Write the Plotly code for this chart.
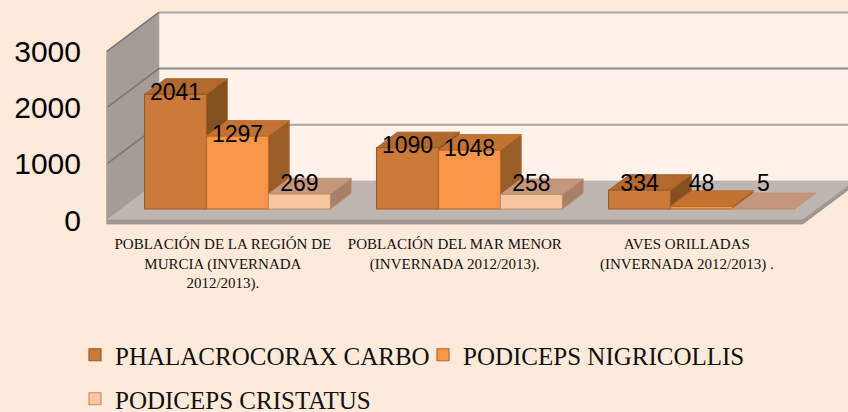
import plotly.graph_objects as go

# ---------------- data ----------------
categories = [
    "POBLACIÓN DE LA REGIÓN DE<br>MURCIA (INVERNADA<br>2012/2013).",
    "POBLACIÓN DEL MAR MENOR<br>(INVERNADA 2012/2013).",
    "AVES ORILLADAS<br>(INVERNADA 2012/2013) .",
]
series_names = ["PHALACROCORAX CARBO", "PODICEPS NIGRICOLLIS", "PODICEPS CRISTATUS"]
phalacrocorax = [2041, 1090, 334]
nigricollis = [1297, 1048, 48]
cristatus = [269, 258, 5]
y_ticks = [0, 1000, 2000, 3000]

series_values = [phalacrocorax, nigricollis, cristatus]

# ---------------- style ----------------
front_cols = ["#CB7A3A", "#F79646", "#FAC6A2"]
top_cols = ["#B2692D", "#C3732F", "#C4967C"]
side_cols = ["#85501F", "#9A5C27", "#A8806A"]
edge_cols = ["#9C5A25", "#B86A2C", "#C0906E"]

BG = "#FDEADA"
W = 0.267            # bar width (category units)
K = 0.0562           # px per value unit (vertical)
XS = 232.0           # px per category unit
DEPTH = (52.0, 39.0)  # full floor depth in px (right, up)
T0 = 0.282           # depth position of bar front plane
TB = 0.4             # bar depth fraction

ML, MT, MB = 82, 0, 182
X0PX = 237.5 - ML    # px of x=0 inside plot area
YZ = 209.0           # px of value 0 (bar plane)
PW, PH = 848 - ML, 412 - MT - MB
x_range = [(-X0PX) / XS, (PW - X0PX) / XS]
y_range = [(YZ - PH) / K, YZ / K]


def proj(x, v, t):
    return x + (t - T0) * DEPTH[0] / XS, v + (t - T0) * DEPTH[1] / K


def poly(pts, fill, line=None, lw=0.8):
    path = "M " + " L ".join(f"{a},{b}" for a, b in pts) + " Z"
    return dict(type="path", path=path, xref="x", yref="y", fillcolor=fill,
                line=dict(color=line or fill, width=lw), layer="below")


def seg(p, q, color, width):
    return dict(type="line", x0=p[0], y0=p[1], x1=q[0], y1=q[1], xref="x", yref="y",
                line=dict(color=color, width=width), layer="below")


XL, XR = -0.5, 2.5
TOP = y_ticks[-1]
shapes = []
# back wall
shapes.append(poly([proj(XL, 0, 1), proj(XR + 0.3, 0, 1), proj(XR + 0.3, TOP, 1), proj(XL, TOP, 1)],
                   "#FEF2EA", "#FEF2EA"))
# side wall
shapes.append(poly([proj(XL, 0, 0), proj(XL, TOP, 0), proj(XL, TOP, 1), proj(XL, 0, 1)],
                   "#A59C97", "#A59C97"))
# floor top
shapes.append(poly([proj(XL, 0, 0), proj(XR, 0, 0), proj(XR, 0, 1), proj(XL, 0, 1)],
                   "#C0B6B1", "#C0B6B1"))
# floor thickness
th = 4.0 / K
shapes.append(poly([proj(XL, 0, 0), proj(XR, 0, 0), proj(XR, -th, 0), proj(XL, -th, 0)],
                   "#9F9792", "#9F9792"))
shapes.append(poly([proj(XR, 0, 0), proj(XR, 0, 1), proj(XR, -th, 1), proj(XR, -th, 0)],
                   "#9F9792", "#9F9792"))
# gridlines
for v in y_ticks[1:]:
    col = "#8C8C8C" if v == 2000 else "#ABA6A2"
    shapes.append(seg(proj(XL, v, 1), proj(XR + 0.3, v, 1), col, 2))
    shapes.append(seg(proj(XL, v, 0), proj(XL, v, 1), "#7A7470", 1.5))
shapes.append(seg(proj(XL, TOP, 0), proj(XL, 0, 0), "#B5ADA8", 1))

# bar top/side faces (computed from the values)
ddx = TB * DEPTH[0] / XS
ddv = TB * DEPTH[1] / K
for i in range(len(categories)):
    for j, vals in enumerate(series_values):
        v = vals[i]
        c = i + (j - 1) * W
        x0, x1 = c - W / 2, c + W / 2
        shapes.append(poly([(x1, 0), (x1, v), (x1 + ddx, v + ddv), (x1 + ddx, ddv)],
                           side_cols[j], edge_cols[j]))
        shapes.append(poly([(x0, v), (x1, v), (x1 + ddx, v + ddv), (x0 + ddx, v + ddv)],
                           top_cols[j], edge_cols[j]))

fig = go.Figure()
legend_ids = ["legend", "legend2", "legend3"]
for j, (name, vals) in enumerate(zip(series_names, series_values)):
    fig.add_trace(go.Bar(
        x=[i + (j - 1) * W for i in range(len(vals))], y=vals, width=W, name=name,
        marker=dict(color=front_cols[j], line=dict(color=edge_cols[j], width=1.2)),
        legend=legend_ids[j], hoverinfo="skip"))

LABEL_MIN = 430
for j, vals in enumerate(series_values):
    fig.add_trace(go.Scatter(
        x=[i + (j - 1) * W for i in range(len(vals))],
        y=[max(v, LABEL_MIN) for v in vals],
        text=[str(v) for v in vals], mode="text", textposition="middle center",
        textfont=dict(family="Liberation Sans, Arial", size=23, color="#000000"),
        showlegend=False, hoverinfo="skip"))

leg_font = dict(family="Liberation Serif, Times New Roman, serif", size=25, color="#111111")
leg_common = dict(orientation="h", xref="container", yref="container", xanchor="left",
                  yanchor="middle", bgcolor="rgba(0,0,0,0)", font=leg_font)

fig.update_layout(
    width=848, height=412,
    margin=dict(l=ML, r=0, t=MT, b=MB),
    paper_bgcolor=BG, plot_bgcolor=BG,
    barmode="overlay",
    shapes=shapes,
    showlegend=True,
    legend=dict(x=75 / 848, y=1 - 355 / 412, **leg_common),
    legend2=dict(x=423 / 848, y=1 - 355 / 412, **leg_common),
    legend3=dict(x=75 / 848, y=1 - 399 / 412, **leg_common),
    xaxis=dict(range=x_range, showgrid=False, zeroline=False, showline=False,
               tickmode="array",
               tickvals=[i - T0 * DEPTH[0] / XS for i in range(len(categories))],
               ticktext=categories, ticks="", ticklabelstandoff=3,
               tickfont=dict(family="Liberation Serif, Times New Roman, serif", size=15,
                             color="#111111")),
    yaxis=dict(range=y_range, showgrid=False, zeroline=False, showline=False,
               tickmode="array",
               tickvals=[v - T0 * DEPTH[1] / K for v in y_ticks],
               ticktext=[str(v) for v in y_ticks], ticks="",
               tickfont=dict(family="Liberation Sans, Arial", size=30, color="#000000")),
)

fig.write_html(
    "out.html",
    config={"displayModeBar": False},
    post_script="document.body.style.margin='0';document.body.style.overflow='hidden';",
)
